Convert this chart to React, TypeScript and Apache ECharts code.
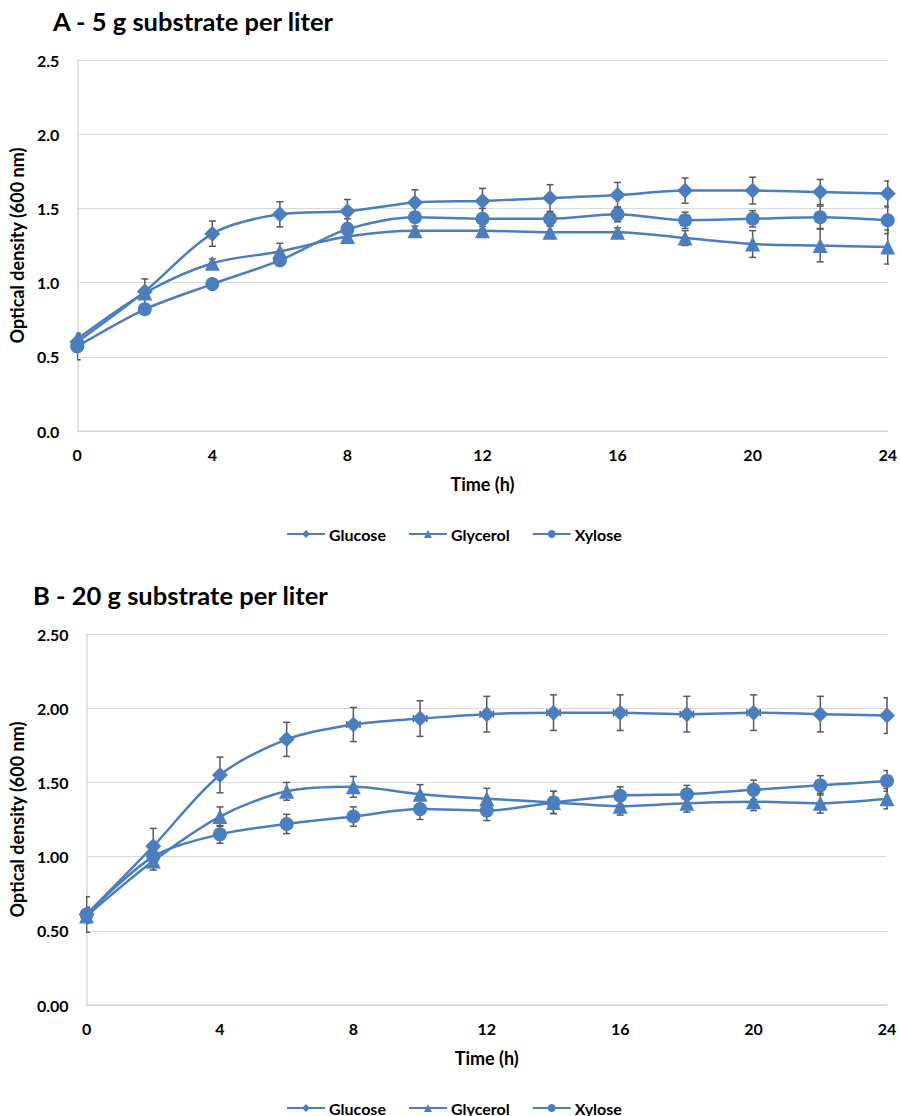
import React, { useEffect, useRef } from "react";
import * as echarts from "echarts";

const timeH = [0, 2, 4, 6, 8, 10, 12, 14, 16, 18, 20, 22, 24];
const seriesNames = ["Glucose", "Glycerol", "Xylose"];
const xTicks = [0, 4, 8, 12, 16, 20, 24];

// Panel A – 5 g substrate per liter
const glucoseA = [0.60, 0.94, 1.33, 1.46, 1.48, 1.54, 1.55, 1.57, 1.59, 1.62, 1.62, 1.61, 1.60];
const glucoseAErr = [0.04, 0.085, 0.085, 0.085, 0.08, 0.085, 0.085, 0.09, 0.085, 0.085, 0.09, 0.085, 0.085];
const glycerolA = [0.62, 0.93, 1.13, 1.21, 1.31, 1.35, 1.35, 1.34, 1.34, 1.30, 1.26, 1.25, 1.24];
const glycerolAErr = [0.03, 0.03, 0.03, 0.055, 0.03, 0.03, 0.03, 0.04, 0.03, 0.05, 0.09, 0.11, 0.115];
const xyloseA = [0.57, 0.82, 0.99, 1.15, 1.36, 1.44, 1.43, 1.43, 1.46, 1.42, 1.43, 1.44, 1.42];
const xyloseAErr = [0.09, 0.03, 0.03, 0.03, 0.07, 0.03, 0.07, 0.04, 0.05, 0.055, 0.055, 0.075, 0.09];

// Panel B – 20 g substrate per liter
const glucoseB = [0.61, 1.07, 1.55, 1.79, 1.89, 1.93, 1.96, 1.97, 1.97, 1.96, 1.97, 1.96, 1.95];
const glucoseBErr = [0.12, 0.12, 0.12, 0.115, 0.115, 0.12, 0.12, 0.12, 0.12, 0.12, 0.12, 0.12, 0.12];
const glucoseBTimeErr = [0, 0, 0, 0, 0.2, 0.2, 0.2, 0.2, 0.2, 0.2, 0.2, 0, 0];
const glycerolB = [0.60, 0.97, 1.27, 1.44, 1.47, 1.42, 1.39, 1.365, 1.34, 1.36, 1.37, 1.36, 1.39];
const glycerolBErr = [0.05, 0.06, 0.065, 0.06, 0.07, 0.065, 0.07, 0.075, 0.06, 0.06, 0.06, 0.067, 0.068];
const xyloseB = [0.61, 1.0, 1.15, 1.22, 1.27, 1.32, 1.31, 1.365, 1.41, 1.42, 1.45, 1.48, 1.51];
const xyloseBErr = [0.05, 0.05, 0.06, 0.065, 0.065, 0.07, 0.067, 0.075, 0.06, 0.06, 0.065, 0.065, 0.07];

const BLUE = "#4A7EBF";
const ERR = "#595959";
const GRID = "#D9D9D9";
const FONT = "Lato";

function lineSeries(name: string, symbol: string, size: number, values: number[], idx: number) {
  return {
    name,
    type: "line",
    xAxisIndex: idx,
    yAxisIndex: idx,
    data: timeH.map((t, i) => [t, values[i]]),
    smooth: 0.3,
    symbol,
    symbolSize: size,
    lineStyle: { color: BLUE, width: 2.5 },
    itemStyle: { color: BLUE },
    z: 3,
  };
}

function errSeries(id: string, values: number[], errs: number[], idx: number) {
  return {
    id,
    type: "custom",
    xAxisIndex: idx,
    yAxisIndex: idx,
    clip: true,
    z: 2,
    silent: true,
    encode: { x: 0, y: [1, 2] },
    data: timeH.map((t, i) => [t, values[i] - errs[i], values[i] + errs[i]]),
    renderItem: (params: any, api: any) => {
      const x = api.value(0);
      const lo = api.coord([x, api.value(1)]);
      const hi = api.coord([x, api.value(2)]);
      const c = 3.5;
      const st = { stroke: ERR, lineWidth: 1.5 };
      return {
        type: "group",
        children: [
          { type: "line", shape: { x1: lo[0], y1: lo[1], x2: hi[0], y2: hi[1] }, style: st },
          { type: "line", shape: { x1: lo[0] - c, y1: lo[1], x2: lo[0] + c, y2: lo[1] }, style: st },
          { type: "line", shape: { x1: hi[0] - c, y1: hi[1], x2: hi[0] + c, y2: hi[1] }, style: st },
        ],
      };
    },
  };
}

function timeErrSeries(id: string, values: number[], errs: number[], idx: number) {
  const rows: number[][] = [];
  timeH.forEach((t, i) => {
    if (errs[i] > 0) rows.push([t - errs[i], t + errs[i], values[i]]);
  });
  return {
    id,
    type: "custom",
    xAxisIndex: idx,
    yAxisIndex: idx,
    clip: true,
    z: 2,
    silent: true,
    encode: { x: [0, 1], y: 2 },
    data: rows,
    renderItem: (params: any, api: any) => {
      const y = api.value(2);
      const l = api.coord([api.value(0), y]);
      const r = api.coord([api.value(1), y]);
      const c = 3.5;
      const st = { stroke: ERR, lineWidth: 1.5 };
      return {
        type: "group",
        children: [
          { type: "line", shape: { x1: l[0], y1: l[1], x2: r[0], y2: r[1] }, style: st },
          { type: "line", shape: { x1: l[0], y1: l[1] - c, x2: l[0], y2: l[1] + c }, style: st },
          { type: "line", shape: { x1: r[0], y1: r[1] - c, x2: r[0], y2: r[1] + c }, style: st },
        ],
      };
    },
  };
}

const labelStyle = { fontFamily: FONT, fontWeight: "bold", fontSize: 16, color: "#000" };

function xAxis(idx: number, margin: number) {
  return {
    type: "value",
    gridIndex: idx,
    min: 0,
    max: 24,
    interval: 4,
    name: "Time (h)",
    nameLocation: "middle",
    nameGap: 44,
    nameTextStyle: { ...labelStyle, fontSize: 18 },
    axisLine: { show: true, lineStyle: { color: GRID, width: 1.5 } },
    axisTick: { show: false },
    splitLine: { show: false },
    axisLabel: { ...labelStyle, margin, formatter: (v: number) => (xTicks.includes(v) ? String(v) : "") },
  };
}

function yAxis(idx: number, decimals: number, nameGap: number) {
  return {
    type: "value",
    gridIndex: idx,
    min: 0,
    max: 2.5,
    interval: 0.5,
    name: "Optical density (600 nm)",
    nameLocation: "middle",
    nameRotate: 90,
    nameGap,
    nameTextStyle: { ...labelStyle, fontSize: 18 },
    axisLine: { show: true, lineStyle: { color: GRID, width: 1.5 } },
    axisTick: { show: false },
    splitLine: { show: true, lineStyle: { color: GRID, width: 1.2 } },
    axisLabel: { ...labelStyle, margin: 18, formatter: (v: number) => v.toFixed(decimals) },
  };
}

function legend(top: number) {
  return {
    data: seriesNames,
    left: 286,
    top,
    itemWidth: 38,
    itemHeight: 10,
    itemGap: 22,
    padding: 0,
    textStyle: { ...labelStyle, fontSize: 16, padding: [0, 0, 0, -1] },
    selectedMode: false,
  };
}

export default function App() {
  const ref = useRef<HTMLDivElement>(null);
  useEffect(() => {
    document.body.style.margin = "0";
    const chart = echarts.init(ref.current!, null, { renderer: "svg" });
    chart.setOption({
      animation: false,
      backgroundColor: "#fff",
      title: [
        {
          text: "A - 5 g substrate per liter",
          left: 53,
          top: 8,
          padding: 0,
          textStyle: { fontFamily: FONT, fontWeight: "bold", fontSize: 25.5, color: "#000" },
        },
        {
          text: "B - 20 g substrate per liter",
          left: 33,
          top: 582,
          padding: 0,
          textStyle: { fontFamily: FONT, fontWeight: "bold", fontSize: 25.5, color: "#000" },
        },
      ],
      legend: [legend(526), legend(1100)],
      grid: [
        { left: 76, top: 60, width: 814, height: 371 },
        { left: 85, top: 634, width: 802, height: 371 },
      ],
      xAxis: [xAxis(0, 15), xAxis(1, 15)],
      yAxis: [yAxis(0, 1, 45), yAxis(1, 2, 54)],
      series: [
        errSeries("eGluA", glucoseA, glucoseAErr, 0),
        errSeries("eGlyA", glycerolA, glycerolAErr, 0),
        errSeries("eXylA", xyloseA, xyloseAErr, 0),
        lineSeries("Glucose", "diamond", 16, glucoseA, 0),
        lineSeries("Glycerol", "triangle", 15, glycerolA, 0),
        lineSeries("Xylose", "circle", 14, xyloseA, 0),
        errSeries("eGluB", glucoseB, glucoseBErr, 1),
        timeErrSeries("tGluB", glucoseB, glucoseBTimeErr, 1),
        errSeries("eGlyB", glycerolB, glycerolBErr, 1),
        errSeries("eXylB", xyloseB, xyloseBErr, 1),
        lineSeries("Glucose", "diamond", 16, glucoseB, 1),
        lineSeries("Glycerol", "triangle", 15, glycerolB, 1),
        lineSeries("Xylose", "circle", 14, xyloseB, 1),
      ],
    });
    return () => chart.dispose();
  }, []);
  return <div ref={ref} style={{ width: 900, height: 1116 }} />;
}
